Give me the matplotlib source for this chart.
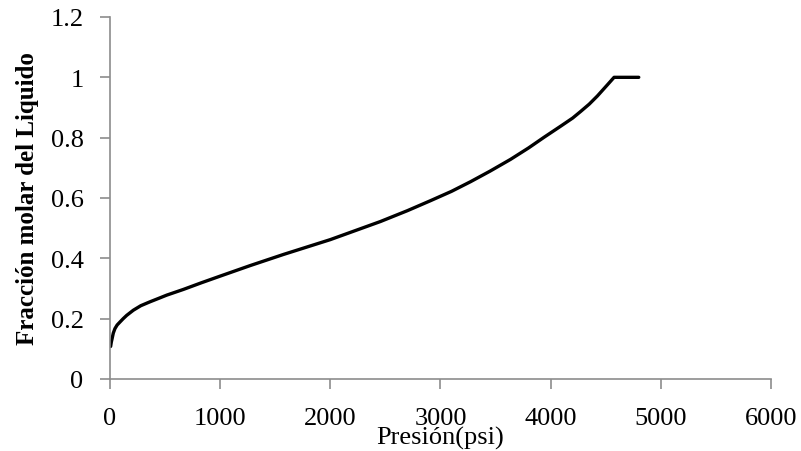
import matplotlib
matplotlib.use('Agg')
import matplotlib.pyplot as plt

# presion (psi) vs fraccion molar del liquido
presion = [6, 12, 20, 30, 45, 65, 91, 120, 152, 212, 280, 364, 440, 515,
           667, 830, 1000, 1273, 1576, 2000, 2273, 2455, 2700, 2909, 3100,
           3273, 3450, 3636, 3800, 3939, 4091, 4200, 4273, 4350, 4424, 4515,
           4576, 4800]
fraccion = [0.108, 0.122, 0.135, 0.152, 0.167, 0.179, 0.189, 0.200, 0.211,
            0.228, 0.243, 0.256, 0.267, 0.278, 0.297, 0.319, 0.341, 0.376,
            0.413, 0.462, 0.498, 0.522, 0.558, 0.591, 0.622, 0.654, 0.689,
            0.728, 0.766, 0.801, 0.838, 0.865, 0.887, 0.911, 0.938, 0.975,
            1.0, 1.0]

x_ticks = [0, 1000, 2000, 3000, 4000, 5000, 6000]
y_ticks = [0, 0.2, 0.4, 0.6, 0.8, 1.0, 1.2]
y_labels = ['0', '0.2', '0.4', '0.6', '0.8', '1', '1.2']

plt.rcParams['font.family'] = ['Liberation Serif', 'DejaVu Serif']
axis_color = '#8c8c8c'

fig = plt.figure(figsize=(8.01, 4.52), dpi=100)
ax = fig.add_axes([0.1373, 0.1593, 0.8252, 0.8009])

ax.plot(presion, fraccion, color='black', linewidth=2.4, solid_capstyle='round',
        solid_joinstyle='round')

ax.set_xlim(0, 6000)
ax.set_ylim(0, 1.2)
ax.set_xticks(x_ticks)
ax.set_xticklabels([str(v) for v in x_ticks])
ax.set_yticks(y_ticks)
ax.set_yticklabels(y_labels)

for side in ['top', 'right']:
    ax.spines[side].set_visible(False)
for side in ['left', 'bottom']:
    ax.spines[side].set_color(axis_color)
    ax.spines[side].set_linewidth(1.2)

ax.tick_params(axis='both', direction='out', length=7, width=1.2,
               color=axis_color, labelsize=19, labelcolor='black')
ax.tick_params(axis='x', pad=13)
ax.tick_params(axis='y', pad=12)

ax.set_ylabel('Fracción molar del Liquido', fontsize=18, fontweight='bold',
              labelpad=8)
ax.set_xlabel('Presión(psi)', fontsize=19)
ax.xaxis.set_label_coords(0.5, -0.13)

fig.savefig('out.png', dpi=100)
plt.close(fig)
